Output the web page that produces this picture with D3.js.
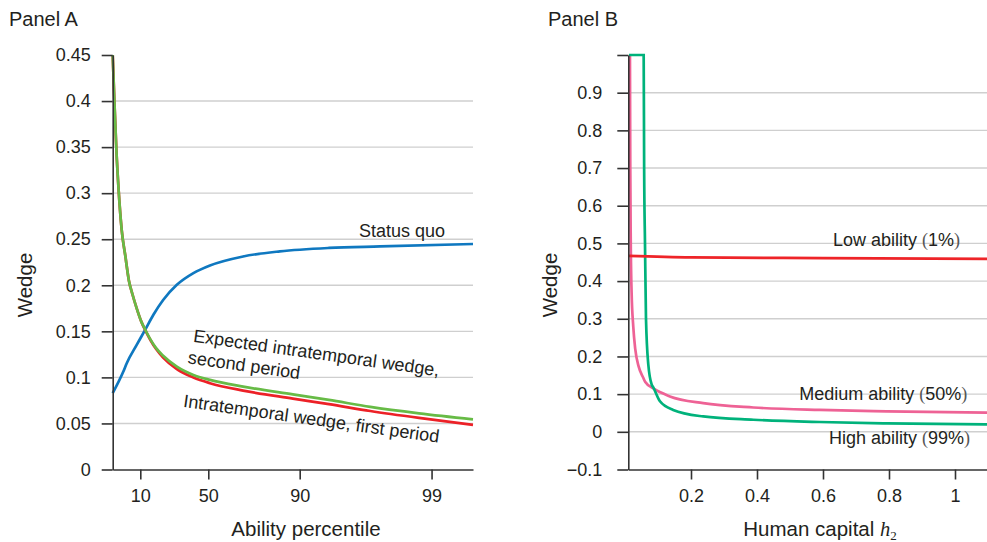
<!DOCTYPE html>
<html><head><meta charset="utf-8">
<script src="https://cdn.jsdelivr.net/npm/d3@7/dist/d3.min.js"></script>
<style>
html,body{margin:0;padding:0;background:#fff;}
text{font-family:"Liberation Sans",Arial,sans-serif;fill:#231f20;}
</style></head>
<body><svg id="chart" width="987" height="542"></svg>
<script>
// ---------- Panel A data ----------
// ability index (0..100 along the horizontal axis)
const abilityA = [0, 0.5, 1.0, 1.65, 2.5, 3.5, 4.5, 5.5, 6.66, 8, 9, 10.5, 12, 14, 17.8, 22.4, 27, 36.2, 50, 60, 71.5, 85, 100];
const wedgeSecond = [0.45, 0.397, 0.349, 0.303, 0.26, 0.232, 0.205, 0.19, 0.175, 0.16, 0.152, 0.141, 0.132, 0.1235, 0.1117, 0.1027, 0.0973, 0.090, 0.0815, 0.0755, 0.068, 0.061, 0.0545];
const wedgeFirst  = [0.45, 0.397, 0.349, 0.303, 0.26, 0.232, 0.205, 0.19, 0.175, 0.16, 0.1515, 0.1403, 0.131, 0.1215, 0.109, 0.0998, 0.0937, 0.0857, 0.077, 0.071, 0.0635, 0.056, 0.0485];
const abilitySQ = [0, 2.95, 3.9, 6.66, 9.0, 11.3, 14.0, 17.8, 22.4, 27, 36.2, 46.4, 60, 74.2, 100];
const statusQuo = [0.0828, 0.1063, 0.1154, 0.1353, 0.1516, 0.168, 0.184, 0.2005, 0.2132, 0.2215, 0.2313, 0.2368, 0.2405, 0.2422, 0.2448];
const percentileTickPos = [7.66, 26.53, 51.9, 88.5];
const percentileTickLabels = ["10", "50", "90", "99"];
const yTicksA = [0, 0.05, 0.1, 0.15, 0.2, 0.25, 0.3, 0.35, 0.4, 0.45];
const yTickLabelsA = ["0", "0.05", "0.1", "0.15", "0.2", "0.25", "0.3", "0.35", "0.4", "0.45"];
const gridA = [0.05, 0.1, 0.15, 0.2, 0.25, 0.3, 0.35, 0.4];

// ---------- Panel B data ----------
const hLow = [0.01, 0.2, 0.6, 1.1];
const wedgeLow = [0.467, 0.463, 0.461, 0.459];
const hMed = [0.015, 0.016, 0.0175, 0.02, 0.025, 0.031, 0.0415, 0.055, 0.0615, 0.086, 0.136, 0.237, 0.389, 0.59, 0.793, 1.1];
const wedgeMed = [1.0, 0.7, 0.5, 0.37, 0.28, 0.22, 0.173, 0.144, 0.132, 0.115, 0.094, 0.076, 0.0645, 0.058, 0.0545, 0.051];
const hHigh = [0.012, 0.0566, 0.058, 0.0606, 0.0636, 0.0707, 0.081, 0.086, 0.106, 0.146, 0.237, 0.389, 0.59, 0.793, 1.1];
const wedgeHigh = [1.0, 1.0, 0.7, 0.5, 0.3, 0.178, 0.125, 0.1175, 0.081, 0.058, 0.0408, 0.032, 0.026, 0.0225, 0.0195];
const xTicksB = [0.2, 0.4, 0.6, 0.8, 1];
const xTickLabelsB = ["0.2", "0.4", "0.6", "0.8", "1"];
const yTicksB = [-0.1, 0, 0.1, 0.2, 0.3, 0.4, 0.5, 0.6, 0.7, 0.8, 0.9, 1.0];
const yTickLabelsB = ["\u22120.1", "0", "0.1", "0.2", "0.3", "0.4", "0.5", "0.6", "0.7", "0.8", "0.9", ""];
const gridB = [0, 0.1, 0.2, 0.3, 0.4, 0.5, 0.6, 0.7, 0.8, 0.9];

// ---------- styles ----------
const C = {blue:"#0f78c0", red:"#ec2127", green:"#67bb46", pink:"#ee6295", teal:"#00b27b", redB:"#ee2428", grid:"#cfcfcf", axis:"#333333"};
const svg = d3.select("#chart");

function zip(xs, ys){ return xs.map((x,i)=>[x, ys[i]]); }

function styleAxis(g){
  g.select(".domain").attr("stroke", C.axis).attr("stroke-width", 1.6);
  g.selectAll(".tick line").attr("stroke", C.axis).attr("stroke-width", 1.6);
  g.selectAll(".tick text").style("font-family", '"Liberation Sans",Arial,sans-serif').style("font-size", "18px").attr("fill", "#231f20");
}

// ================= Panel A =================
const xA = d3.scaleLinear().domain([0, 100]).range([112.7, 473]);
const yA = d3.scaleLinear().domain([0, 0.45]).range([469.5, 55]);

const gA = svg.append("g");
gA.selectAll("line.grid").data(gridA).join("line")
  .attr("x1", xA(0)).attr("x2", xA(100))
  .attr("y1", d=>yA(d)).attr("y2", d=>yA(d))
  .attr("stroke", C.grid).attr("stroke-width", 1.4);

const lineA = d3.line().x(d=>xA(d[0])).y(d=>yA(d[1])).curve(d3.curveMonotoneX);
gA.append("path").attr("d", lineA(zip(abilitySQ, statusQuo))).attr("fill","none").attr("stroke", C.blue).attr("stroke-width", 2.7);
gA.append("path").attr("d", lineA(zip(abilityA, wedgeFirst))).attr("fill","none").attr("stroke", C.red).attr("stroke-width", 2.7);
gA.append("path").attr("d", lineA(zip(abilityA, wedgeSecond))).attr("fill","none").attr("stroke", C.green).attr("stroke-width", 2.7);

const yAxA = gA.append("g").attr("transform", `translate(${xA(0)},0)`)
  .call(d3.axisLeft(yA).tickValues(yTicksA).tickFormat((d,i)=>yTickLabelsA[i]).tickSize(11).tickSizeOuter(0).tickPadding(11));
styleAxis(yAxA);
const xAxA = gA.append("g").attr("transform", `translate(0,${yA(0)})`)
  .call(d3.axisBottom(xA).tickValues(percentileTickPos).tickFormat((d,i)=>percentileTickLabels[i]).tickSize(10).tickSizeOuter(0).tickPadding(9.4));
styleAxis(xAxA);

gA.append("text").attr("x", 9).attr("y", 26).style("font-size","20px").text("Panel A");
gA.append("text").attr("transform","translate(32,285) rotate(-90)").attr("text-anchor","middle").style("font-size","20.5px").text("Wedge");
gA.append("text").attr("x", 306).attr("y", 536).attr("text-anchor","middle").style("font-size","20.5px").text("Ability percentile");
gA.append("text").attr("x", 359).attr("y", 236.7).style("font-size","18px").text("Status quo");
gA.append("text").attr("transform","translate(192.7,341.7) rotate(8)").style("font-size","18px").text("Expected intratemporal wedge,");
gA.append("text").attr("transform","translate(187.3,363.3) rotate(8)").style("font-size","18px").text("second period");
gA.append("text").attr("transform","translate(182.7,406.7) rotate(8)").style("font-size","18px").text("Intratemporal wedge, first period");

// ================= Panel B =================
const xB = d3.scaleLinear().domain([0.01, 1.1]).range([628.3, 988]);
const yB = d3.scaleLinear().domain([-0.1, 1.0]).range([469.5, 55]);

const gB = svg.append("g");
gB.selectAll("line.grid").data(gridB).join("line")
  .attr("x1", xB(0.01)).attr("x2", xB(1.1))
  .attr("y1", d=>yB(d)).attr("y2", d=>yB(d))
  .attr("stroke", C.grid).attr("stroke-width", 1.4);

const lineB = d3.line().x(d=>xB(d[0])).y(d=>yB(d[1])).curve(d3.curveMonotoneX);
gB.append("path").attr("d", lineB(zip(hMed, wedgeMed))).attr("fill","none").attr("stroke", C.pink).attr("stroke-width", 2.7);
gB.append("path").attr("d", lineB(zip(hHigh, wedgeHigh))).attr("fill","none").attr("stroke", C.teal).attr("stroke-width", 2.7);
gB.append("path").attr("d", lineB(zip(hLow, wedgeLow))).attr("fill","none").attr("stroke", C.redB).attr("stroke-width", 2.7);

const yAxB = gB.append("g").attr("transform", `translate(${xB(0.01)},0)`)
  .call(d3.axisLeft(yB).tickValues(yTicksB).tickFormat((d,i)=>yTickLabelsB[i]).tickSize(11).tickSizeOuter(0).tickPadding(15));
styleAxis(yAxB);
const xAxB = gB.append("g").attr("transform", `translate(0,${yB(-0.1)})`)
  .call(d3.axisBottom(xB).tickValues(xTicksB).tickFormat((d,i)=>xTickLabelsB[i]).tickSize(10).tickSizeOuter(0).tickPadding(9.4));
styleAxis(xAxB);

gB.append("text").attr("x", 548).attr("y", 26).style("font-size","20px").text("Panel B");
gB.append("text").attr("transform","translate(557,285) rotate(-90)").attr("text-anchor","middle").style("font-size","20.5px").text("Wedge");
const hx = gB.append("text").attr("x", 820).attr("y", 536).attr("text-anchor","middle").style("font-size","20.5px");
hx.append("tspan").text("Human capital ");
hx.append("tspan").style("font-family",'"Liberation Serif","Times New Roman",serif').style("font-style","italic").text("h");
hx.append("tspan").attr("dy", 4).style("font-family",'"Liberation Serif","Times New Roman",serif').style("font-size","13px").text("2");

function ability(x, y, name, pct){
  const t = gB.append("text").attr("x", x).attr("y", y).attr("text-anchor","end").style("font-size","18px");
  t.append("tspan").text(name + " ");
  t.append("tspan").style("font-family",'"Liberation Serif","Times New Roman",serif').attr("fill","#555").text("(");
  t.append("tspan").text(pct);
  t.append("tspan").style("font-family",'"Liberation Serif","Times New Roman",serif').attr("fill","#555").text(")");
}
ability(960, 245.7, "Low ability", "1%");
ability(967.3, 400, "Medium ability", "50%");
ability(970, 444, "High ability", "99%");
</script></body></html>
